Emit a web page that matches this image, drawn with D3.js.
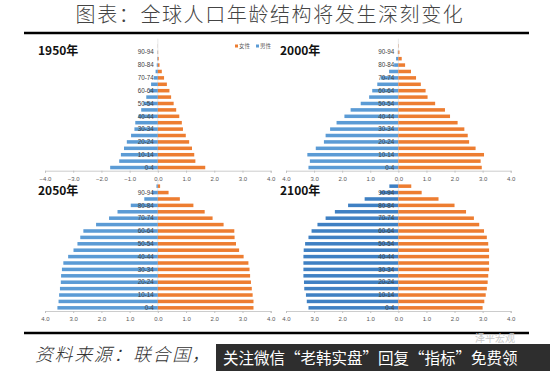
<!DOCTYPE html>
<html>
<head>
<meta charset="utf-8">
<script src="https://cdn.jsdelivr.net/npm/d3@7/dist/d3.min.js"></script>
<style>
  body { margin: 0; background: #fff; }
  svg { display: block; }
</style>
</head>
<body>
<div class="canvas"></div>
<script>
const [width, height] = [550, 371];

// age groups, bottom to top
const ages = ['0-4','5-9','10-14','15-19','20-24','25-29','30-34','35-39','40-44','45-49',
              '50-54','55-59','60-64','65-69','70-74','75-79','80-84','85-89','90-94','95-99'];

// population, 亿
const male1950   = [1.69,1.37,1.31,1.20,1.10,0.95,0.83,0.80,0.69,0.59,0.51,0.41,0.30,0.24,0.14,0.08,0.04,0.02,0.01,0.003];
const female1950 = [1.68,1.33,1.29,1.21,1.11,0.99,0.89,0.85,0.76,0.65,0.56,0.47,0.41,0.32,0.22,0.14,0.06,0.03,0.01,0.003];
const male2000   = [3.20,3.15,3.24,2.94,2.65,2.59,2.43,2.20,1.92,1.70,1.34,1.04,0.93,0.75,0.62,0.33,0.15,0.08,0.02,0.005];
const female2000 = [2.97,2.93,3.05,2.75,2.52,2.47,2.35,2.11,1.84,1.66,1.31,1.04,0.97,0.80,0.63,0.45,0.24,0.12,0.04,0.01];
const male2050   = [3.56,3.52,3.50,3.47,3.44,3.43,3.40,3.35,3.18,2.99,2.85,2.75,2.64,2.19,1.73,1.43,0.96,0.48,0.21,0.05];
const female2050 = [3.39,3.39,3.36,3.33,3.30,3.27,3.25,3.21,3.04,2.88,2.77,2.72,2.71,2.33,1.94,1.66,1.26,0.78,0.38,0.08];
const male2100   = [3.20,3.26,3.29,3.35,3.36,3.38,3.38,3.38,3.38,3.37,3.32,3.20,3.09,2.88,2.59,2.26,1.79,1.20,0.65,0.32];
const female2100 = [3.00,3.06,3.11,3.15,3.18,3.20,3.23,3.23,3.23,3.23,3.20,3.15,3.05,2.88,2.69,2.41,2.00,1.43,0.83,0.46];

const ticks = [-4,-3,-2,-1,0,1,2,3,4];

const panels = [
  {year:'1950年', male:male1950, female:female1950, x0:45,  x1:270.7, axisY:170.7, signed:true,  blue:'#5b9bd5', legend:true},
  {year:'2000年', male:male2000, female:female2000, x0:286, x1:510.7, axisY:170.7, signed:false, blue:'#5b9bd5'},
  {year:'2050年', male:male2050, female:female2050, x0:45,  x1:270.7, axisY:311,   signed:false, blue:'#5b9bd5'},
  {year:'2100年', male:male2100, female:female2100, x0:286, x1:510.7, axisY:311,   signed:false, blue:'#3f80c3'}
];
const orange = '#ed7d31';

const svg = d3.select('.canvas')
  .append('svg')
  .attr('width', width)
  .attr('height', height);

// title
svg.append('text')
  .attr('x', 270).attr('y', 22)
  .attr('text-anchor', 'middle')
  .style('font-family', '"Noto Sans CJK SC", sans-serif')
  .style('font-weight', 300)
  .style('font-size', '20px')
  .style('letter-spacing', '1.6px')
  .attr('fill', '#444')
  .text('图表：全球人口年龄结构将发生深刻变化');

svg.append('line').attr('x1', 24).attr('x2', 529).attr('y1', 33).attr('y2', 33)
  .attr('stroke', '#000').attr('stroke-width', 2.5);
svg.append('line').attr('x1', 24).attr('x2', 529).attr('y1', 333).attr('y2', 333)
  .attr('stroke', '#000').attr('stroke-width', 2.5);

panels.forEach(p => {
  const g = svg.append('g');
  const x = d3.scaleLinear().domain([-4, 4]).range([p.x0, p.x1]);
  const y = d3.scaleBand().domain(ages).range([p.axisY, p.axisY - 20 * 6.4]).paddingInner(0.45).paddingOuter(0.22);

  // centre line
  g.append('line')
    .attr('x1', x(0)).attr('x2', x(0))
    .attr('y1', p.axisY - 20 * 6.4 - 4).attr('y2', p.axisY)
    .attr('stroke', '#d9d9d9').attr('stroke-width', 0.6);

  g.selectAll('rect.m').data(ages).enter().append('rect')
    .attr('class', 'm')
    .attr('x', (d, i) => x(-p.male[i]))
    .attr('y', d => y(d))
    .attr('width', (d, i) => x(0) - x(-p.male[i]))
    .attr('height', y.bandwidth())
    .attr('fill', p.blue);

  g.selectAll('rect.f').data(ages).enter().append('rect')
    .attr('class', 'f')
    .attr('x', x(0))
    .attr('y', d => y(d))
    .attr('width', (d, i) => x(p.female[i]) - x(0))
    .attr('height', y.bandwidth())
    .attr('fill', orange);

  // x axis
  const axis = d3.axisBottom(x).tickValues(ticks).tickSize(2)
    .tickFormat(v => d3.format('.1f')(p.signed ? v : Math.abs(v)));
  const ax = g.append('g').attr('transform', `translate(0,${p.axisY})`).call(axis);
  ax.select('.domain').attr('stroke', '#bfbfbf').attr('stroke-width', 0.8);
  ax.selectAll('.tick line').attr('stroke', '#bfbfbf');
  ax.selectAll('.tick text')
    .attr('y', 6).attr('fill', '#595959')
    .style('font-family', 'Arial, "Liberation Sans", sans-serif')
    .style('font-size', '6px');

  // age labels, every other group
  g.selectAll('text.age').data(ages.filter((d, i) => i % 2 === 0)).enter().append('text')
    .attr('class', 'age')
    .attr('x', x(0) - 4)
    .attr('y', d => y(d) + y.bandwidth() / 2 + 2.2)
    .attr('text-anchor', 'end')
    .attr('fill', '#404040')
    .style('font-family', 'Arial, "Liberation Sans", sans-serif')
    .style('font-size', '6.3px')
    .text(d => d);

  // year label
  g.append('text')
    .attr('x', p.x0 < 100 ? 38 : 280)
    .attr('y', p.axisY < 200 ? 55 : 195)
    .attr('fill', '#111')
    .style('font-family', '"Noto Sans CJK SC", sans-serif')
    .style('font-weight', 'bold')
    .style('font-size', '12px')
    .text(p.year);

  if (p.legend) {
    const lg = g.append('g').attr('transform', 'translate(235,46)')
      .style('font-family', '"Noto Sans CJK SC", sans-serif')
      .style('font-size', '5.5px');
    lg.append('rect').attr('x', 0).attr('y', -1.5).attr('width', 3).attr('height', 3).attr('fill', orange);
    lg.append('text').attr('x', 4).attr('y', 2).attr('fill', '#595959').text('女性');
    lg.append('rect').attr('x', 21).attr('y', -1.5).attr('width', 3).attr('height', 3).attr('fill', p.blue);
    lg.append('text').attr('x', 25).attr('y', 2).attr('fill', '#595959').text('男性');
  }
});

// source
svg.append('text')
  .attr('x', 35).attr('y', 361)
  .style('font-family', '"Noto Sans CJK SC", sans-serif')
  .style('font-style', 'italic')
  .style('font-weight', 300)
  .style('font-size', '18px')
  .style('letter-spacing', '1.6px')
  .attr('fill', '#333')
  .text('资料来源：联合国，');

svg.append('text')
  .attr('x', 475).attr('y', 342)
  .style('font-family', '"Noto Sans CJK SC", sans-serif')
  .style('font-size', '10px')
  .attr('fill', '#c8c8c8')
  .text('泽平宏观');

// watermark bar
svg.append('rect').attr('x', 216).attr('y', 344).attr('width', 334).attr('height', 27).attr('fill', '#2e2e2e');
svg.append('text')
  .attr('x', 223).attr('y', 364)
  .style('font-family', '"Noto Sans CJK SC", sans-serif')
  .style('font-size', '15.5px')
  .attr('fill', '#fff')
  .text('关注微信“老韩实盘”回复“指标”免费领');
</script>
</body>
</html>
